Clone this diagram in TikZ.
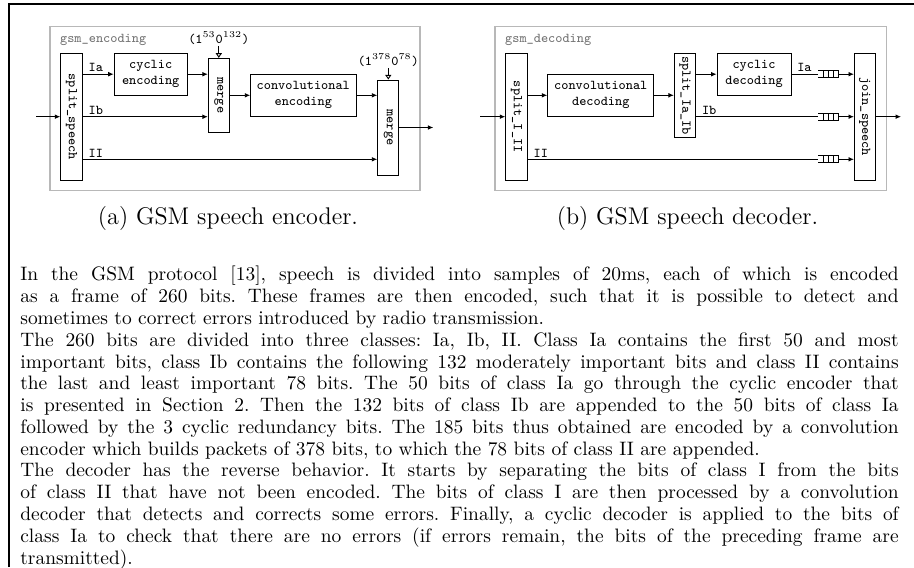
\documentclass[tikz,border=0pt]{standalone}
\usetikzlibrary{arrows.meta}

\tikzset{
  blk/.style={draw, line width=0.5pt, font=\ttfamily\fontsize{7.5}{9}\selectfont, align=center, inner sep=0pt},
  vblk/.style={blk, rotate=-90},
  grp/.style={draw=black!28, thick},
  lbl/.style={font=\ttfamily\fontsize{7.5}{9}\selectfont, inner sep=1pt},
  flow/.style={line width=0.5pt, -{Latex[length=3pt,width=2.6pt]}},
  hint/.style={line width=0.5pt, -{Triangle[open,length=2.6pt,width=3.4pt]}},
}
\newcommand{\fifo}[1]{%
  \draw[line width=0.5pt] (#1) ++(0,-3.5) -- ++(20,0) -- ++(0,7) -- ++(-20,0)
        (#1) ++(5,-3.5) -- ++(0,7) (#1) ++(10,-3.5) -- ++(0,7)
        (#1) ++(15,-3.5) -- ++(0,7);}

\begin{document}
\begin{tikzpicture}[x=0.5556pt, y=-0.5556pt]
  \useasboundingbox (0,0) rectangle (914,567);
  \draw[line width=0.6pt] (9,567) -- (9,4) -- (914,4);

  % encoder
  \draw[grp] (50,26.7) rectangle (420,190.7);
  \node[lbl, text=black!55, anchor=west] (enclbl) at (58,40) {gsm\_encoding};
  \node[vblk, minimum width=70.4pt, minimum height=12pt] (splitsp) at (71.5,116.7) {split\_speech};
  \node[blk, minimum width=40.7pt, minimum height=23.2pt] (cyc) at (150.7,74.2) {cyclic\\encoding};
  \node[vblk, minimum width=41.1pt, minimum height=11.7pt] (mrgA) at (218.8,95.3) {merge};
  \node[blk, minimum width=58.5pt, minimum height=23.7pt] (conv) at (303.3,95.3) {convolutional\\encoding};
  \node[vblk, minimum width=52.8pt, minimum height=11.8pt] (mrgB) at (388.3,127.5) {merge};
  \node[lbl] (annA) at (218.8,38) {(1$^{53}$0$^{132}$)};
  \node[lbl] (annB) at (388.3,60) {(1$^{378}$0$^{78}$)};
  \coordinate (inA) at (36,116.7);
  \coordinate (outA) at (433.3,127.5);
  \coordinate (lvA) at (0,159.3);

  \draw[flow] (inA) -- (splitsp.south);
  \draw[flow] (splitsp.north |- cyc.west) -- node[lbl, pos=0, anchor=south west, xshift=2pt] {Ia} (cyc.west);
  \draw[flow] (splitsp.north) -- node[lbl, pos=0, anchor=south west, xshift=2pt] {Ib} (splitsp.north -| mrgA.south);
  \draw[flow] (splitsp.north |- lvA) -- node[lbl, pos=0, anchor=south west, xshift=2pt] {II} (mrgB.south |- lvA);
  \draw[flow] (cyc.east) -- (cyc.east -| mrgA.south);
  \draw[flow] (mrgA.north) -- (conv.west);
  \draw[flow] (conv.east) -- (conv.east -| mrgB.south);
  \draw[flow] (mrgB.north) -- (outA);
  \draw[hint] (annA.south) -- (mrgA.west);
  \draw[hint] (annB.south) -- (mrgB.west);
  \node[font=\fontsize{13.4}{15}\selectfont] (capA) at (228,218) {(a) GSM speech encoder.};

  % decoder
  \draw[grp] (495,26.7) rectangle (886.7,190.7);
  \node[lbl, text=black!55, anchor=west] (declbl) at (503,40) {gsm\_decoding};
  \node[vblk, minimum width=70.4pt, minimum height=12pt] (splitI) at (516.5,116.7) {split\_I\_II};
  \node[blk, minimum width=59pt, minimum height=23.7pt] (cdec) at (600.8,95.3) {convolutional\\decoding};
  \node[vblk, minimum width=46.9pt, minimum height=11.9pt] (splitIa) at (685,95.5) {split\_Ia\_Ib};
  \node[blk, minimum width=41.1pt, minimum height=23.2pt] (ydec) at (754,74.2) {cyclic\\decoding};
  \node[vblk, minimum width=70.4pt, minimum height=11.5pt] (join) at (864.7,116.7) {join\_speech};
  \coordinate (inB) at (480,116.7);
  \coordinate (outB) at (901,116.7);
  \coordinate (qa) at (818.3,74.2);
  \coordinate (qb) at (818.3,116.7);
  \coordinate (qc) at (818.3,159.3);
  \coordinate (qa2) at (838.3,74.2);
  \coordinate (qb2) at (838.3,116.7);
  \coordinate (qc2) at (838.3,159.3);

  \draw[flow] (inB) -- (splitI.south);
  \draw[flow] (splitI.north |- cdec.west) -- (cdec.west);
  \draw[flow] (cdec.east) -- (cdec.east -| splitIa.south);
  \draw[flow] (splitIa.north |- ydec.west) -- (ydec.west);
  \draw[line width=0.5pt] (ydec.east) -- node[lbl, pos=0, anchor=south west, xshift=2pt] {Ia} (qa);
  \draw[line width=0.5pt] (splitIa.north |- qb) -- node[lbl, pos=0, anchor=south west, xshift=2pt] {Ib} (qb);
  \draw[line width=0.5pt] (splitI.north |- qc) -- node[lbl, pos=0, anchor=south west, xshift=2pt] {II} (qc);
  \fifo{qa} \fifo{qb} \fifo{qc}
  \draw[flow] (qa2) -- (qa2 -| join.south);
  \draw[flow] (qb2) -- (qb2 -| join.south);
  \draw[flow] (qc2) -- (qc2 -| join.south);
  \draw[flow] (join.north) -- (outB);
  \node[font=\fontsize{13.4}{15}\selectfont] (capB) at (687.5,218) {(b) GSM speech decoder.};

  % text
  \node[anchor=north west, text width=488pt, align=justify, inner sep=0pt,
        font=\fontsize{10.8}{12.1}\selectfont\frenchspacing] (body) at (20,266) {%
    In the GSM protocol [13], speech is divided into samples of 20ms, each of which is encoded\linebreak
    as a frame of 260 bits. These frames are then encoded, such that it is possible to detect and\linebreak
    sometimes to correct errors introduced by radio transmission.\\
    The 260 bits are divided into three classes: Ia, Ib, II. Class Ia contains the first 50 and most\linebreak
    important bits, class Ib contains the following 132 moderately important bits and class II contains\linebreak
    the last and least important 78 bits. The 50 bits of class Ia go through the cyclic encoder that\linebreak
    is presented in Section 2. Then the 132 bits of class Ib are appended to the 50 bits of class Ia\linebreak
    followed by the 3 cyclic redundancy bits. The 185 bits thus obtained are encoded by a convolution\linebreak
    encoder which builds packets of 378 bits, to which the 78 bits of class II are appended.\\
    The decoder has the reverse behavior. It starts by separating the bits of class I from the bits\linebreak
    of class II that have not been encoded. The bits of class I are then processed by a convolution\linebreak
    decoder that detects and corrects some errors. Finally, a cyclic decoder is applied to the bits of\linebreak
    class Ia to check that there are no errors (if errors remain, the bits of the preceding frame are\linebreak
    transmitted).};
\end{tikzpicture}
\end{document}
